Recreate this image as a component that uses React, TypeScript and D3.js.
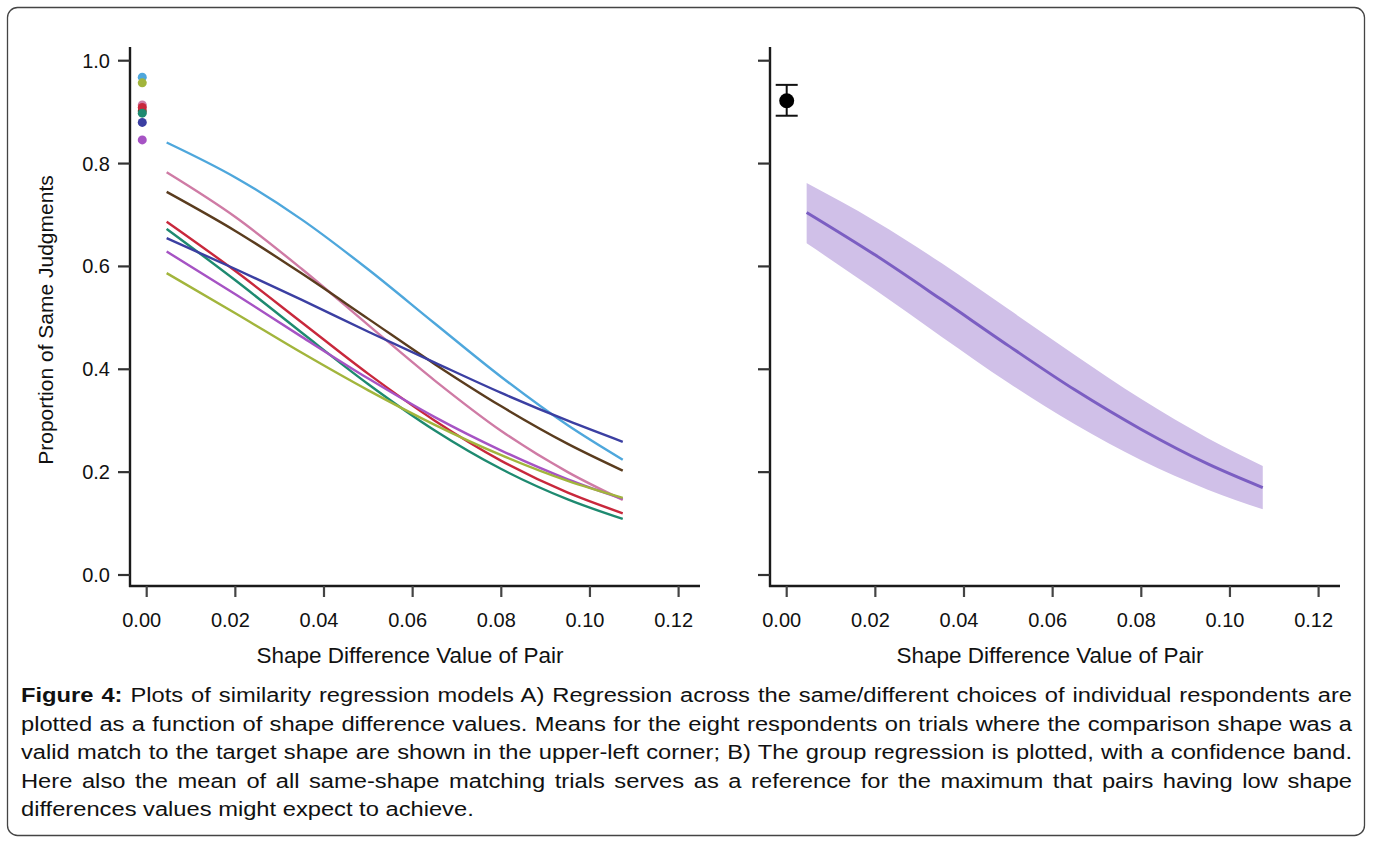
import React, { useEffect, useRef } from "react";
import * as d3 from "d3";

// ---------- data ----------
const xTicks = [0, 0.02, 0.04, 0.06, 0.08, 0.1, 0.12];
const yTicks = [0, 0.2, 0.4, 0.6, 0.8, 1.0];
const xGrid = [0.0045, 0.02, 0.035, 0.05, 0.065, 0.08, 0.095, 0.1074];

const respondentNames = ["blue", "pink", "brown", "red", "teal", "indigo", "purple", "olive"];
const curveBlue = [0.841, 0.773, 0.691, 0.594, 0.489, 0.385, 0.291, 0.224];
const curvePink = [0.783, 0.696, 0.595, 0.486, 0.378, 0.28, 0.2, 0.146];
const curveBrown = [0.745, 0.669, 0.586, 0.498, 0.41, 0.328, 0.255, 0.203];
const curveRed = [0.687, 0.591, 0.491, 0.391, 0.3, 0.222, 0.16, 0.12];
const curveTeal = [0.673, 0.573, 0.471, 0.371, 0.281, 0.206, 0.147, 0.109];
const curveIndigo = [0.655, 0.595, 0.535, 0.473, 0.413, 0.354, 0.3, 0.259];
const curvePurple = [0.629, 0.546, 0.463, 0.382, 0.307, 0.242, 0.186, 0.148];
const curveOlive = [0.587, 0.509, 0.432, 0.359, 0.292, 0.233, 0.183, 0.15];
const respondentMeans = [0.968, 0.914, 0.902, 0.909, 0.898, 0.88, 0.846, 0.957];
const meanX = -0.001;

const groupLine = [0.705, 0.622, 0.535, 0.446, 0.36, 0.283, 0.216, 0.17];
const groupUpper = [0.762, 0.688, 0.606, 0.517, 0.428, 0.342, 0.266, 0.212];
const groupLower = [0.645, 0.554, 0.463, 0.374, 0.293, 0.223, 0.166, 0.128];
const groupMean = 0.922;
const groupMeanLo = 0.893;
const groupMeanHi = 0.953;

const xTitle = "Shape Difference Value of Pair";
const yTitle = "Proportion of Same Judgments";
const captionBold = "Figure 4:";
const captionLines = [
  " Plots of similarity regression models A) Regression across the same/different choices of individual respondents are",
  "plotted as a function of shape difference values. Means for the eight respondents on trials where the comparison shape was a",
  "valid match to the target shape are shown in the upper-left corner; B) The group regression is plotted, with a confidence band.",
  "Here also the mean of all same-shape matching trials serves as a reference for the maximum that pairs having low shape",
  "differences values might expect to achieve.",
];

// ---------- styles ----------
const curves = [curveBlue, curvePink, curveBrown, curveRed, curveTeal, curveIndigo, curvePurple, curveOlive];
const colors: Record<string, string> = {
  blue: "#4ea7dc",
  pink: "#cf7ba5",
  brown: "#5a3c1e",
  red: "#c8283c",
  teal: "#1e8a70",
  indigo: "#3b3fa2",
  purple: "#a653c4",
  olive: "#a2b53c",
};
const FONT = "'Liberation Sans', Arial, sans-serif";
const NARROW = "'Liberation Sans Narrow', 'Arial Narrow', 'Liberation Sans', Arial, sans-serif";

const Y0 = 575;
const Y1 = 60.7;
const XAXIS_Y = 586;
const YAXIS_TOP = 47;

function Panel({ offset, left }: { offset: number; left: boolean }) {
  const x = d3.scaleLinear().domain([0, 0.12]).range([146.7 + offset, 678.6 + offset]);
  const y = d3.scaleLinear().domain([0, 1]).range([Y0, Y1]);
  const yAxisX = 130 + offset;
  const xAxisEnd = 700 + offset;
  const line = d3
    .line<number>()
    .x((_, i) => x(xGrid[i]))
    .y((d) => y(d))
    .curve(d3.curveMonotoneX);
  const area = d3
    .area<number>()
    .x((_, i) => x(xGrid[i]))
    .y0((_, i) => y(groupLower[i]))
    .y1((d) => y(d))
    .curve(d3.curveMonotoneX);

  return (
    <g>
      {left &&
        curves.map((c, i) => (
          <path key={i} d={line(c) || ""} fill="none" stroke={colors[respondentNames[i]]} strokeWidth={2.4} />
        ))}
      {left &&
        respondentMeans.map((m, i) => (
          <circle key={i} cx={x(meanX)} cy={y(m)} r={4.5} fill={colors[respondentNames[i]]} />
        ))}
      {!left && (
        <g>
          <path d={area(groupUpper) || ""} fill="#d0c0e8" />
          <path d={line(groupLine) || ""} fill="none" stroke="#7b5ec2" strokeWidth={3} />
          <line x1={x(0)} x2={x(0)} y1={y(groupMeanLo)} y2={y(groupMeanHi)} stroke="#111" strokeWidth={2} />
          <line x1={x(0) - 11} x2={x(0) + 11} y1={y(groupMeanLo)} y2={y(groupMeanLo)} stroke="#111" strokeWidth={2} />
          <line x1={x(0) - 11} x2={x(0) + 11} y1={y(groupMeanHi)} y2={y(groupMeanHi)} stroke="#111" strokeWidth={2} />
          <circle cx={x(0)} cy={y(groupMean)} r={7.5} fill="#000" />
        </g>
      )}
      {/* axes */}
      <line x1={yAxisX} x2={yAxisX} y1={YAXIS_TOP} y2={XAXIS_Y + 1} stroke="#1a1a1a" strokeWidth={2.4} />
      <line x1={yAxisX - 1} x2={xAxisEnd} y1={XAXIS_Y} y2={XAXIS_Y} stroke="#1a1a1a" strokeWidth={2.4} />
      {yTicks.map((t) => (
        <g key={t}>
          <line x1={yAxisX - 12} x2={yAxisX} y1={y(t)} y2={y(t)} stroke="#333" strokeWidth={2.2} />
          {left && (
            <text x={yAxisX - 20} y={y(t)} dy="0.35em" textAnchor="end" fontFamily={FONT} fontSize={20} fill="#111">
              {t.toFixed(1)}
            </text>
          )}
        </g>
      ))}
      {xTicks.map((t) => (
        <g key={t}>
          <line x1={x(t)} x2={x(t)} y1={XAXIS_Y} y2={XAXIS_Y + 11} stroke="#444" strokeWidth={2.2} />
          <text x={x(t) - 5} y={627} textAnchor="middle" fontFamily={FONT} fontSize={20} fill="#111">
            {t.toFixed(2)}
          </text>
        </g>
      ))}
      <text
        x={(130 + 700) / 2 - 5 + offset}
        y={663}
        textAnchor="middle"
        fontFamily={FONT}
        fontSize={22.5}
        fill="#111"
      >
        {xTitle}
      </text>
      {left && (
        <text
          transform={`translate(53,320) rotate(-90)`}
          textAnchor="middle"
          fontFamily={FONT}
          fontSize={21}
          fill="#111"
        >
          {yTitle}
        </text>
      )}
    </g>
  );
}

const CAP_X = 21;
const CAP_W = 1331;
const CAP_BASE = 702;
const CAP_LH = 28.6;

export default function App() {
  const capRef = useRef<SVGGElement>(null);
  useEffect(() => {
    const g = capRef.current;
    if (!g) return;
    const texts = Array.from(g.querySelectorAll("text")) as SVGTextElement[];
    // line 3 sets with near-natural spacing in the reference
    const ref = texts[2];
    const wRef = ref.getComputedTextLength();
    const r = (CAP_W / wRef) * 0.99;
    texts.forEach((t, i) => {
      t.setAttribute("transform", `translate(${CAP_X},${CAP_BASE + i * CAP_LH}) scale(${r},1)`);
      if (i < texts.length - 1) {
        const w = t.getComputedTextLength();
        const spaces = ((t.textContent || "").match(/ /g) || []).length;
        const ws = (CAP_W / r - w) / spaces;
        t.style.wordSpacing = `${ws}px`;
      }
    });
  }, []);

  return (
    <svg
      width={1373}
      height={845}
      viewBox="0 0 1373 845"
      style={{ position: "absolute", left: 0, top: 0, background: "#fff" }}
    >
      <rect x={0} y={0} width={1373} height={845} fill="#fff" />
      <rect x={7.5} y={7.5} width={1357} height={828} rx={10} ry={10} fill="none" stroke="#444" strokeWidth={1.3} />
      <Panel offset={0} left={true} />
      <Panel offset={640} left={false} />
      <g ref={capRef} fontFamily={NARROW} fontSize={20} fill="#111">
        {captionLines.map((l, i) => (
          <text key={i} transform={`translate(${CAP_X},${CAP_BASE + i * CAP_LH})`} style={{ whiteSpace: "pre" }}>
            {i === 0 && <tspan fontWeight="bold">{captionBold}</tspan>}
            {l}
          </text>
        ))}
      </g>
    </svg>
  );
}
